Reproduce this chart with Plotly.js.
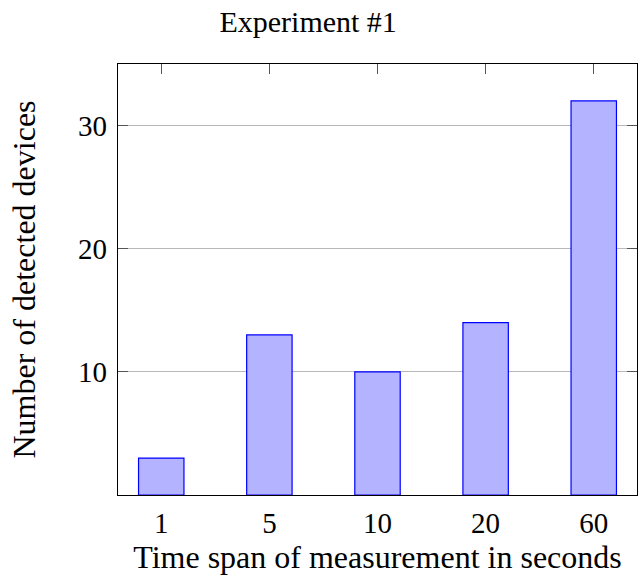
<!DOCTYPE html>
<html>
<head>
<meta charset="utf-8">
<script src="https://cdn.plot.ly/plotly-3.0.1.min.js"></script>
<style>html,body{margin:0;padding:0;background:#fff;}#chart{width:638px;height:575px;}</style>
</head>
<body>
<div id="chart"></div>
<script>
const categories = ["1", "5", "10", "20", "60"];
const devices = [3, 13, 10, 14, 32];
const yTicks = [10, 20, 30];

const FONT = "Liberation Serif, serif";

const trace = {
  type: "bar",
  x: categories,
  y: devices,
  width: 0.42,
  marker: {color: "rgb(179,179,255)", line: {color: "rgb(0,0,255)", width: 1.2}},
  hoverinfo: "none"
};

const layout = {
  width: 638,
  height: 575,
  margin: {l: 118, r: 1, t: 64, b: 80},
  paper_bgcolor: "#fff",
  plot_bgcolor: "#fff",
  showlegend: false,
  font: {family: FONT, color: "#000", size: 29},
  title: {
    text: "Experiment #1",
    font: {family: FONT, size: 30, color: "#000"},
    x: 0.483, xref: "container", xanchor: "center",
    y: 0.962, yref: "container", yanchor: "middle"
  },
  xaxis: {
    type: "category",
    range: [-0.4, 4.4],
    showline: true, linecolor: "#000", linewidth: 1.2, mirror: "ticks",
    ticks: "inside", ticklen: 10, tickcolor: "#555", tickwidth: 1,
    showgrid: false, zeroline: false,
    tickfont: {family: FONT, size: 29, color: "#000"},
    ticklabelstandoff: 2,
    title: {text: "Time span of measurement in seconds", font: {family: FONT, size: 32, color: "#000"}, standoff: 6},
    layer: "below traces"
  },
  yaxis: {
    range: [0, 35],
    tickvals: yTicks,
    ticktext: yTicks.map(String),
    showline: true, linecolor: "#000", linewidth: 1.2, mirror: "ticks",
    ticks: "inside", ticklen: 10, tickcolor: "#555", tickwidth: 1,
    showgrid: true, gridcolor: "#b8b8b8", gridwidth: 1,
    zeroline: false,
    tickfont: {family: FONT, size: 29, color: "#000"},
    ticklabelstandoff: 4,
    title: {text: "Number of detected devices", font: {family: FONT, size: 32, color: "#000"}, standoff: 32},
    layer: "below traces"
  },
  bargap: 0.58
};

Plotly.newPlot("chart", [trace], layout, {staticPlot: true, displayModeBar: false});
</script>
</body>
</html>
